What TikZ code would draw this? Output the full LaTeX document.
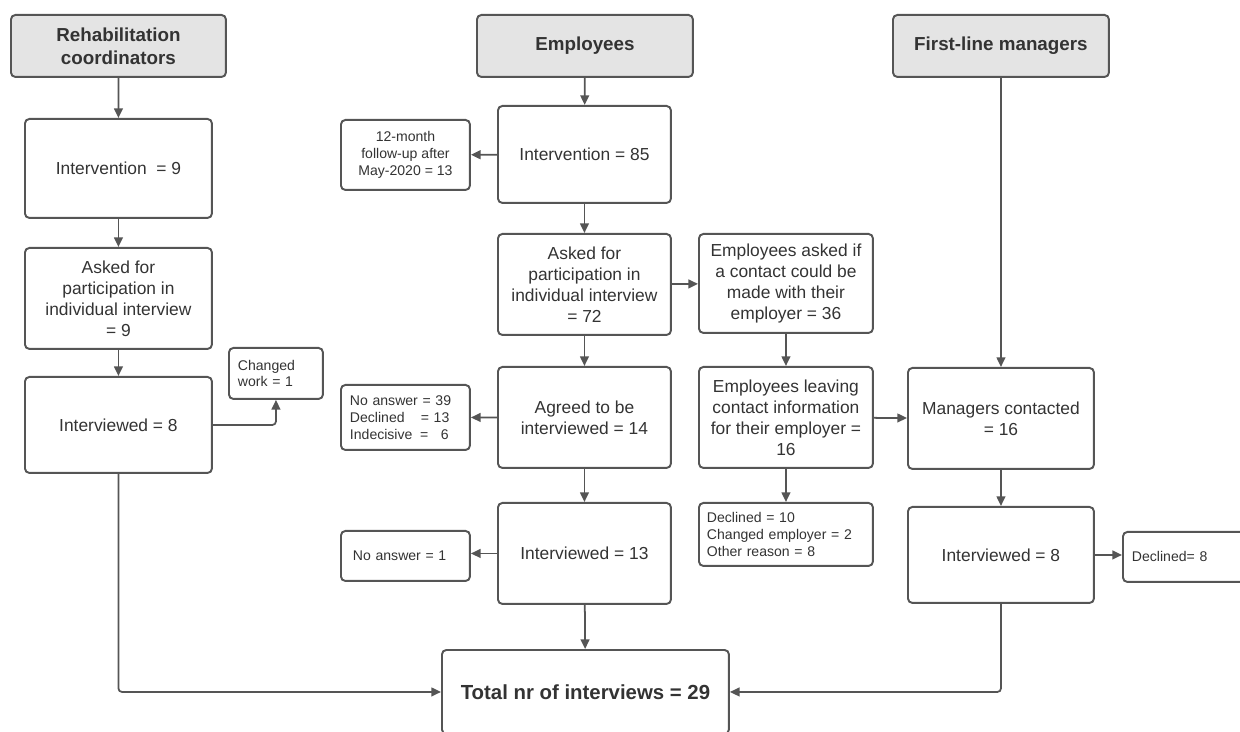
\documentclass[tikz,border=0pt]{standalone}
\usepackage{fontspec}
\setmainfont{Liberation Sans}
\usetikzlibrary{arrows.meta}
\definecolor{linegray}{HTML}{555555}
\definecolor{headfill}{HTML}{E4E4E4}
\definecolor{textgray}{HTML}{333333}

\begin{document}
\begin{tikzpicture}[x=0.02cm,y=-0.02cm,
  box/.style={draw=linegray, line width=1.1pt, rounded corners=2.5pt, anchor=north west,
    inner sep=0pt, align=center, text=textgray, font=\fontsize{9.9}{11.9}\selectfont},
  head/.style={box, fill=headfill, font=\fontsize{10.7}{12.9}\selectfont\bfseries},
  note/.style={box, align=left, font=\fontsize{8}{9.6}\selectfont},
  arr/.style={draw=linegray, line width=1pt, rounded corners=2pt,
    -{Triangle[length=5.5pt,width=5pt]}}]
  \useasboundingbox (0,0) rectangle (1240,732);

  \node[head, minimum width=4.3cm, minimum height=1.24cm] (rchead) at (10,14) {Rehabilitation\\coordinators};
  \node[head, minimum width=4.32cm, minimum height=1.24cm] (emphead) at (476,14) {Employees};
  \node[head, minimum width=4.32cm, minimum height=1.24cm] (flmhead) at (892,14) {First-line managers};

  \node[box, minimum width=3.74cm, minimum height=1.98cm] (rcint) at (24,118) {Intervention~ = 9};
  \node[box, minimum width=3.74cm, minimum height=2.02cm] (rcask) at (24,247)
    {Asked for\\participation in\\individual interview\\= 9};
  \node[box, minimum width=3.74cm, minimum height=1.92cm] (rcinter) at (24,376) {Interviewed = 8};
  \node[note, inner xsep=0.18cm, text width=1.52cm, minimum height=1.02cm] (chwork) at (228,347)
    {Changed\\work = 1};

  \node[box, minimum width=2.58cm, minimum height=1.4cm, font=\fontsize{8}{9.6}\selectfont] (follow) at (340,119)
    {12-month\\follow-up after\\May-2020 = 13};
  \node[box, minimum width=3.46cm, minimum height=1.94cm] (eint) at (497,105) {Intervention = 85};
  \node[box, minimum width=3.46cm, minimum height=2.02cm] (eask) at (497,233)
    {Asked for\\participation in\\individual interview\\= 72};
  \node[box, minimum width=3.48cm, minimum height=1.98cm] (easkif) at (698,233)
    {Employees asked if\\a contact could be\\made with their\\employer = 36};
  \node[box, minimum width=3.46cm, minimum height=2.02cm] (eagree) at (497,366)
    {Agreed to be\\interviewed = 14};
  \node[note, inner xsep=0.18cm, text width=2.22cm, minimum height=1.3cm] (noans39) at (340,384)
    {No answer = 39\\Declined\hspace{1.15em}= 13\\Indecisive\hspace{0.55em}= \phantom{1}6};
  \node[box, minimum width=3.48cm, minimum height=2.02cm] (eleave) at (698,366)
    {Employees leaving\\contact information\\for their employer =\\16};
  \node[note, inner xsep=0.16cm, text width=3.16cm, minimum height=1.26cm] (decl10) at (698,502)
    {Declined = 10\\Changed employer = 2\\Other reason = 8};
  \node[box, minimum width=3.46cm, minimum height=2.02cm] (einter) at (497,502) {Interviewed = 13};
  \node[note, inner xsep=0.24cm, text width=2.1cm, minimum height=1.0cm] (noans1) at (340,530)
    {No answer = 1};

  \node[box, minimum width=3.72cm, minimum height=2.02cm] (mcont) at (907,367)
    {Managers contacted\\= 16};
  \node[box, minimum width=3.72cm, minimum height=1.92cm] (minter) at (907,506) {Interviewed = 8};
  \node[note, inner xsep=0.18cm, text width=2.44cm, minimum height=1.0cm] (decl8) at (1122,531)
    {Declined= 8};

  \node[box, minimum width=5.74cm, minimum height=1.68cm, font=\fontsize{11.6}{14}\selectfont\bfseries]
    (total) at (441,649) {Total nr of interviews = 29};

  \draw[arr] (rchead) -- (rcint);
  \draw[arr] (rcint) -- (rcask);
  \draw[arr] (rcask) -- (rcinter);
  \draw[arr] (rcinter.east) -| (chwork.south);
  \draw[arr] (rcinter.south) |- (total.west);

  \draw[arr] (emphead) -- (eint);
  \draw[arr] (eint) -- (follow);
  \draw[arr] (eint) -- (eask);
  \draw[arr] (eask) -- (easkif);
  \draw[arr] (eask) -- (eagree);
  \draw[arr] (eagree) -- (noans39);
  \draw[arr] (eagree) -- (einter);
  \draw[arr] (einter.west) -- (einter.west -| noans1.east);
  \draw[arr] (einter) -- (total);
  \draw[arr] (easkif) -- (eleave);
  \draw[arr] (eleave) -- (mcont);
  \draw[arr] (eleave) -- (decl10);

  \draw[arr] (flmhead) -- (mcont);
  \draw[arr] (mcont) -- (minter);
  \draw[arr] (minter.east) -- (minter.east -| decl8.west);
  \draw[arr] (minter.south) |- (total.east);
\end{tikzpicture}
\end{document}
